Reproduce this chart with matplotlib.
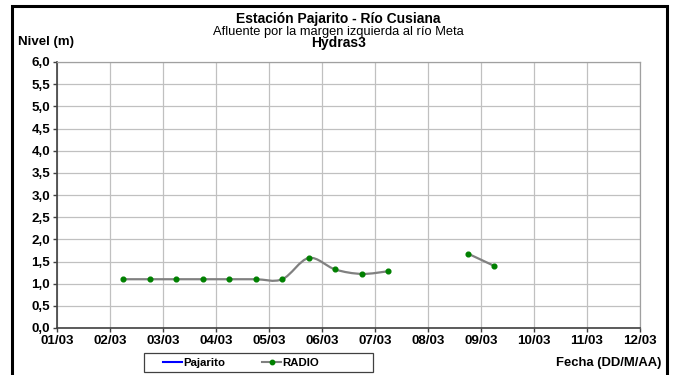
import numpy as np
import matplotlib
matplotlib.use("Agg")
import matplotlib.pyplot as plt
from matplotlib.path import Path
from matplotlib.patches import PathPatch, Rectangle
from matplotlib.lines import Line2D

plt.rcParams['font.family'] = ['Liberation Sans', 'DejaVu Sans']

# Data (x = day of March, fractional; y = level in m)
seg1_days = [2.25, 2.75, 3.25, 3.75, 4.25, 4.75, 5.25, 5.75, 6.25, 6.75, 7.25]
seg1_vals = [1.10, 1.10, 1.10, 1.10, 1.10, 1.10, 1.10, 1.58, 1.32, 1.22, 1.28]
seg2_days = [8.75, 9.25]
seg2_vals = [1.68, 1.40]
tick_days = list(range(1, 13))
tick_labels = ["%02d/03" % d for d in tick_days]
y_ticks = [0.0, 0.5, 1.0, 1.5, 2.0, 2.5, 3.0, 3.5, 4.0, 4.5, 5.0, 5.5, 6.0]


def smooth_path(xs, ys):
    pts = np.column_stack([xs, ys]).astype(float)
    n = len(pts)
    verts = [pts[0]]
    codes = [Path.MOVETO]
    for i in range(n - 1):
        p0 = pts[i - 1] if i > 0 else pts[i]
        p1 = pts[i]
        p2 = pts[i + 1]
        p3 = pts[i + 2] if i + 2 < n else pts[i + 1]
        c1 = p1 + (p2 - p0) / 6.0
        c2 = p2 - (p3 - p1) / 6.0
        verts += [c1, c2, p2]
        codes += [Path.CURVE4] * 3
    return Path(verts, codes)


W, H = 677, 375
fig = plt.figure(figsize=(W / 100, H / 100), dpi=100)
fig.patches.append(Rectangle((12 / W, -0.05), (667 - 12) / W, 1.05 - 6 / H,
                             transform=fig.transFigure, fill=False,
                             edgecolor='black', linewidth=2.2))

ax = fig.add_axes([57 / W, 1 - 328 / H, (640 - 57) / W, (328 - 62) / H])
ax.set_xlim(1, 12)
ax.set_ylim(0, 6)
ax.set_xticks(tick_days)
ax.set_xticklabels(tick_labels, fontsize=9.6, fontweight='bold')
ax.set_yticks(y_ticks)
ax.set_yticklabels([("%.1f" % v).replace('.', ',') for v in y_ticks], fontsize=9.6,
                   fontweight='bold')
ax.grid(True, color='#c0c0c0', linewidth=0.9)
ax.set_axisbelow(True)
for s in ['top', 'right']:
    ax.spines[s].set_color('#a0a0a0')
    ax.spines[s].set_linewidth(0.9)
for s in ['left', 'bottom']:
    ax.spines[s].set_color('#404040')
    ax.spines[s].set_linewidth(1.2)
ax.tick_params(axis='both', direction='out', length=3, width=1, color='#404040', pad=2)

for xs, ys in [(seg1_days, seg1_vals), (seg2_days, seg2_vals)]:
    ax.add_patch(PathPatch(smooth_path(xs, ys), facecolor='none', edgecolor='#808080',
                           linewidth=1.6, zorder=3))
    ax.plot(xs, ys, linestyle='none', marker='o', markersize=3.4, color='#008000', zorder=4)

fig.text(0.5, 1 - 19.5 / H, "Estación Pajarito - Río Cusiana", ha='center', va='center',
         fontsize=10, fontweight='bold')
fig.text(0.5, 1 - 31.5 / H, "Afluente por la margen izquierda al río Meta", ha='center',
         va='center', fontsize=9.3)
fig.text(0.5, 1 - 43 / H, "Hydras3", ha='center', va='center', fontsize=10, fontweight='bold')
fig.text(18 / W, 1 - 42 / H, "Nivel (m)", ha='left', va='center', fontsize=9.5,
         fontweight='bold')
fig.text(661 / W, 1 - 363 / H, "Fecha (DD/M/AA)", ha='right', va='center', fontsize=9.4,
         fontweight='bold')

# legend frame
fig.patches.append(Rectangle((144 / W, 1 - 372 / H), (373 - 144) / W, (372 - 353) / H,
                             transform=fig.transFigure, fill=False,
                             edgecolor='#404040', linewidth=0.9))
handles = [Line2D([], [], color='#0000ff', linewidth=1.5),
           Line2D([], [], color='#808080', linewidth=1.5, marker='o', markersize=3.2,
                  markerfacecolor='#008000', markeredgecolor='#008000')]
leg = fig.legend(handles, ['Pajarito', 'RADIO'], loc='center left',
                 bbox_to_anchor=(163 / W, 1 - 362.5 / H), ncol=2,
                 prop={'weight': 'bold', 'size': 8.2}, frameon=False,
                 handlelength=1.7, columnspacing=3.2,
                 borderpad=0, handletextpad=0.1, borderaxespad=0)

fig.savefig("out.png", dpi=100)
